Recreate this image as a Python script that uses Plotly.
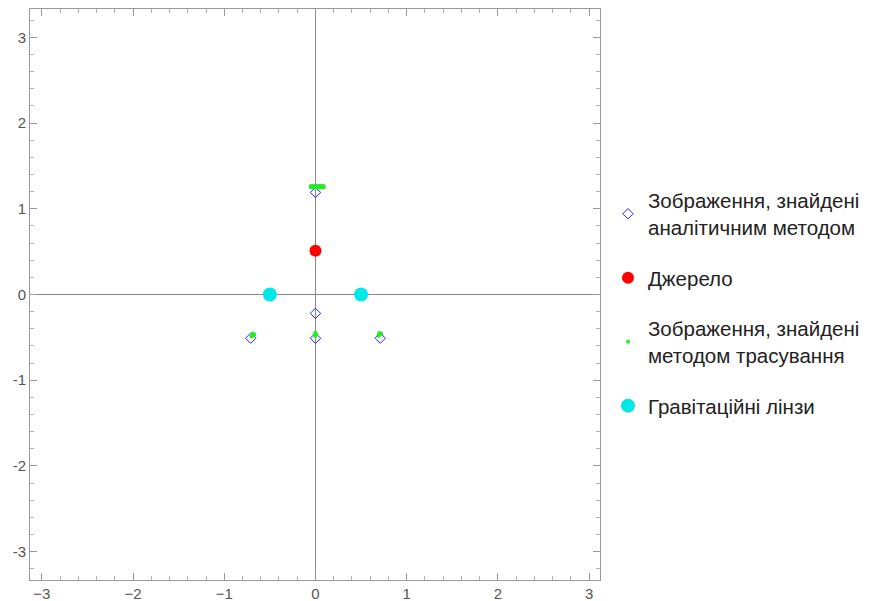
import plotly.graph_objects as go

# Analytical images
ana_x = [0.0, 0.0, -0.71, 0.0, 0.71]
ana_y = [1.19, -0.22, -0.51, -0.51, -0.51]

# Source
src_x = [0.0]
src_y = [0.51]

# Ray-traced images
tr_x = [-0.05, -0.04, -0.03, -0.02, -0.01, 0.0, 0.01, 0.02, 0.03, 0.04, 0.05, 0.06, 0.07, 0.08, 0.09,
        -0.05, -0.03, -0.01, 0.01, 0.03, 0.05, 0.07, 0.09,
        -0.70, -0.69, -0.68, -0.67, -0.69,
        0.0, -0.01, 0.01, 0.0, 0.0,
        0.69, 0.70, 0.71, 0.72, 0.70]
tr_y = [1.25, 1.25, 1.25, 1.25, 1.25, 1.25, 1.25, 1.25, 1.25, 1.25, 1.25, 1.25, 1.25, 1.25, 1.25,
        1.265, 1.265, 1.265, 1.265, 1.265, 1.265, 1.265, 1.265,
        -0.49, -0.475, -0.465, -0.47, -0.455,
        -0.445, -0.47, -0.47, -0.485, -0.46,
        -0.48, -0.47, -0.46, -0.455, -0.45]

# Lenses
lens_x = [-0.5, 0.5]
lens_y = [0.0, 0.0]

names = ["Зображення, знайдені<br>аналітичним методом",
         "Джерело",
         "Зображення, знайдені<br>методом трасування",
         "Гравітаційні лінзи"]

x_ticks = [-3, -2, -1, 0, 1, 2, 3]
x_labels = ["−3", "−2", "−1", "0", "1", "2", "3"]
y_ticks = [-3, -2, -1, 0, 1, 2, 3]
y_labels = ["-3", "-2", "-1", "0", "1", "2", "3"]

fig = go.Figure()
fig.add_trace(go.Scatter(x=ana_x, y=ana_y, mode="markers", name=names[0], legendgroup="a",
                         marker=dict(symbol="diamond-open", size=8, color="#2222ff", line=dict(width=1))))
fig.add_trace(go.Scatter(x=src_x, y=src_y, mode="markers", name=names[1], legendgroup="b",
                         marker=dict(symbol="circle", size=12, color="#ff0000")))
fig.add_trace(go.Scatter(x=tr_x, y=tr_y, mode="markers", name=names[2], legendgroup="c",
                         marker=dict(symbol="circle", size=4, color="#22ee22")))
fig.add_trace(go.Scatter(x=lens_x, y=lens_y, mode="markers", name=names[3], legendgroup="d",
                         marker=dict(symbol="circle", size=14, color="#00e8e8")))

axis_common = dict(
    showgrid=False, zeroline=True, zerolinecolor="#8a8a8a", zerolinewidth=1,
    showline=True, linecolor="#9a9a9a", linewidth=1, mirror="ticks",
    ticks="inside", ticklen=7, tickcolor="#9a9a9a", tickwidth=1, automargin=False,
    tickfont=dict(family="Liberation Sans, Arial", size=15, color="#555555"),
    minor=dict(ticks="inside", ticklen=4, tickcolor="#b0b0b0", dtick=0.2, showgrid=False),
)
fig.update_xaxes(range=[-3.13, 3.12], tickvals=x_ticks, ticktext=x_labels, **axis_common)
fig.update_yaxes(range=[-3.33, 3.33], tickvals=y_ticks, ticktext=y_labels, **axis_common)

# page body has an 8px margin, so the figure is sized to fit inside the window
fig.update_layout(
    width=879, height=593,
    margin=dict(l=22, r=287, t=1, b=21, autoexpand=False),
    plot_bgcolor="white", paper_bgcolor="white",
    font=dict(family="Liberation Sans, Arial", size=20.5, color="#222222"),
    legend=dict(x=1.014, xanchor="left", y=0.485, yanchor="middle",
                tracegroupgap=21, itemsizing="trace",
                font=dict(size=20.5, color="#222222")),
    showlegend=True,
)

fig.write_html("out.html")
